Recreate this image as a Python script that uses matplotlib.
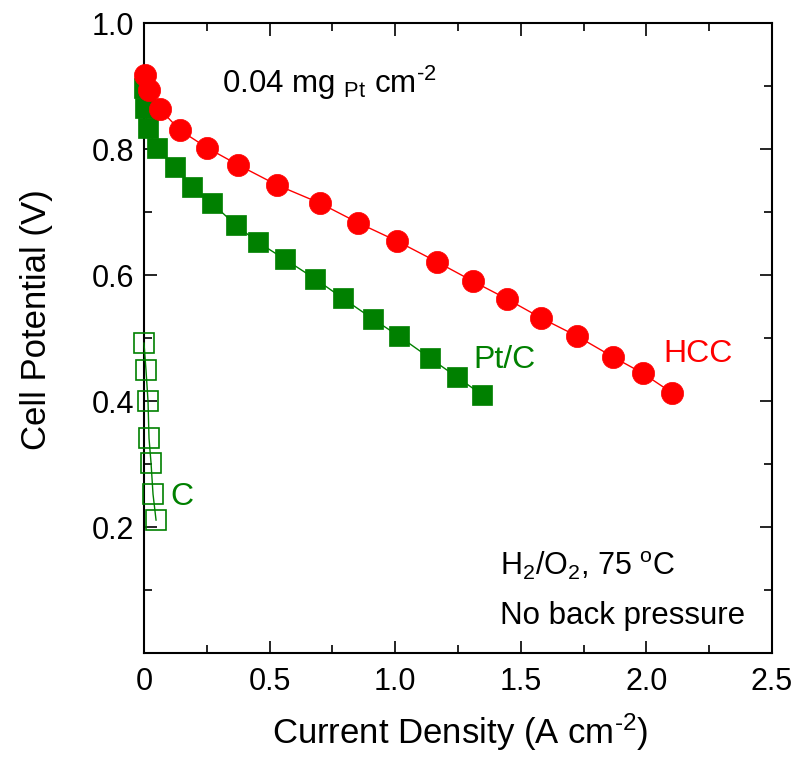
import matplotlib

matplotlib.use("Agg")

import matplotlib.pyplot as plt
from matplotlib.ticker import FixedLocator, FuncFormatter, MultipleLocator

plt.rcParams["font.family"] = ["Liberation Sans", "DejaVu Sans"]
plt.rcParams["mathtext.fontset"] = "custom"
plt.rcParams["mathtext.rm"] = "Liberation Sans"
plt.rcParams["mathtext.it"] = "Liberation Sans:italic"
plt.rcParams["mathtext.bf"] = "Liberation Sans:bold"

# HCC (red circles)
hcc_j = [0.004, 0.020, 0.064, 0.143, 0.251, 0.374, 0.529, 0.701, 0.852,
         1.007, 1.166, 1.310, 1.445, 1.580, 1.724, 1.867, 1.986, 2.102]
hcc_v = [0.917, 0.894, 0.863, 0.830, 0.802, 0.775, 0.743, 0.714, 0.683,
         0.654, 0.621, 0.590, 0.562, 0.532, 0.503, 0.470, 0.444, 0.413]

# Pt/C (filled green squares)
ptc_j = [0.000, 0.005, 0.015, 0.050, 0.123, 0.191, 0.271, 0.366, 0.454,
         0.561, 0.681, 0.792, 0.912, 1.015, 1.139, 1.246, 1.346]
ptc_v = [0.897, 0.865, 0.833, 0.802, 0.771, 0.740, 0.714, 0.679, 0.652,
         0.625, 0.594, 0.563, 0.530, 0.503, 0.468, 0.438, 0.410]

# bare C (open green squares)
c_j = [0.000, 0.008, 0.016, 0.020, 0.028, 0.036, 0.048]
c_v = [0.492, 0.449, 0.400, 0.341, 0.302, 0.252, 0.211]

x_ticks = [0.0, 0.5, 1.0, 1.5, 2.0, 2.5]
y_ticks = [0.2, 0.4, 0.6, 0.8, 1.0]

RED = "#ff0000"
GREEN = "#008000"

fig = plt.figure(figsize=(8.08, 7.58), dpi=100, facecolor="white")
ax = fig.add_axes([0.1782, 0.1385, 0.7772, 0.8311])

ax.plot(c_j, c_v, color=GREEN, lw=1.0, marker="s", ms=14, mfc="none",
        mec=GREEN, mew=1.2, clip_on=False, zorder=3)
ax.plot(ptc_j, ptc_v, color=GREEN, lw=1.0, marker="s", ms=14.5, mfc=GREEN,
        mec=GREEN, mew=0.5, clip_on=False, zorder=4)
ax.plot(hcc_j, hcc_v, color=RED, lw=1.0, marker="o", ms=16, mfc=RED,
        mec=RED, mew=0.5, clip_on=False, zorder=5)

ax.set_xlim(0, 2.5)
ax.set_ylim(0, 1.0)

ax.xaxis.set_major_locator(FixedLocator(x_ticks))
ax.xaxis.set_minor_locator(MultipleLocator(0.25))
ax.xaxis.set_major_formatter(FuncFormatter(lambda v, p: "0" if v == 0 else f"{v:.1f}"))
ax.yaxis.set_major_locator(FixedLocator(y_ticks))
ax.yaxis.set_minor_locator(MultipleLocator(0.1))
ax.yaxis.set_major_formatter(FuncFormatter(lambda v, p: f"{v:.1f}"))

ax.tick_params(which="both", direction="in", top=True, right=True, width=1.2)
ax.tick_params(which="major", length=9, labelsize=22)
ax.tick_params(axis="x", which="major", pad=10)
ax.tick_params(axis="y", which="major", pad=7)
ax.tick_params(which="minor", length=5.5)
for s in ax.spines.values():
    s.set_linewidth(1.5)

ax.set_xlabel(r"Current Density (A cm$^{\text{-2}}$)", fontsize=25)
ax.xaxis.set_label_coords(0.503, -0.093)
ax.set_ylabel("Cell Potential (V)", fontsize=25)
ax.yaxis.set_label_coords(-0.145, 0.529)

ax.text(0.31, 0.889, r"0.04 mg $_{\rm Pt}$ cm$^{\text{-2}}$", fontsize=22.5, va="baseline")
ax.text(1.31, 0.452, "Pt/C", fontsize=23, color=GREEN, va="baseline")
ax.text(2.066, 0.462, "HCC", fontsize=23, color=RED, va="baseline")
ax.text(0.107, 0.235, "C", fontsize=23, color=GREEN, va="baseline")
ax.text(1.417, 0.124, r"H$_2$/O$_2$, 75 $^{\rm o}$C", fontsize=22, va="baseline")
ax.text(1.417, 0.046, "No back pressure", fontsize=22.5, va="baseline")

fig.savefig("out.png", dpi=100, facecolor="white")
